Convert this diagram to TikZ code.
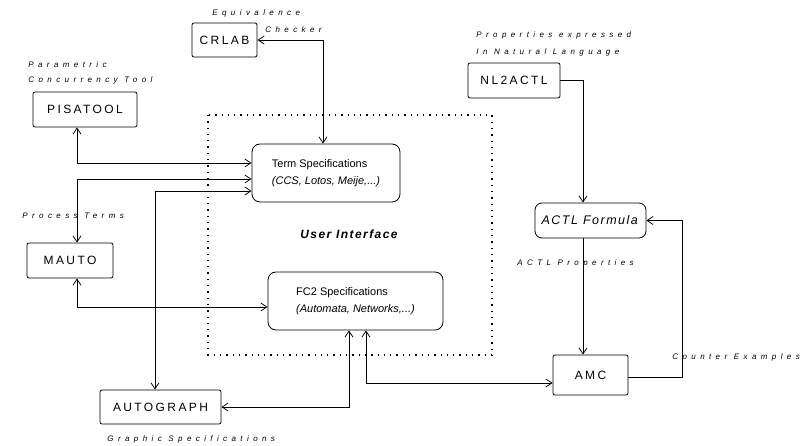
\documentclass[tikz,border=0pt]{standalone}
\usepackage{fontspec}
\setmainfont{Liberation Sans}
\newfontfamily\lblfont[LetterSpace=55]{Liberation Sans}
\newfontfamily\boxfont[LetterSpace=20]{Liberation Sans}
\newfontfamily\uifont[LetterSpace=12]{Liberation Sans}
\usetikzlibrary{arrows.meta}
\begin{document}
\begin{tikzpicture}[x=1pt,y=-1pt,
  >={Straight Barb[length=6pt,width=8pt]},
  every path/.style={line width=0.8pt},
  tool/.style={draw,rounded corners=2pt,inner sep=0pt,font=\boxfont\fontsize{12}{14}\selectfont},
  spec/.style={draw,rounded corners=8pt,inner sep=0pt,align=left,font=\fontsize{11}{17}\selectfont},
  lbl/.style={inner sep=0pt,anchor=west,font=\lblfont\itshape\fontsize{8}{9}\selectfont}]
\useasboundingbox (0,0) rectangle (806,446);
% user interface frame
\draw[line width=1.3pt,dash pattern=on 1.3pt off 5pt] (208,115) rectangle (492,355);
\node[font=\uifont\itshape\bfseries\fontsize{12}{14}\selectfont,inner sep=0pt] (ui) at (349,234) {User Interface};
% nodes
\node[tool,minimum width=65pt,minimum height=34pt] (crlab) at (224.5,40) {CRLAB};
\node[tool,minimum width=104pt,minimum height=35pt] (pisa) at (85,109.5) {PISATOOL};
\node[tool,minimum width=92pt,minimum height=35pt] (nl2) at (514,80.5) {NL2ACTL};
\node[tool,minimum width=86pt,minimum height=35pt] (mauto) at (70,260.5) {MAUTO};
\node[tool,minimum width=121pt,minimum height=34pt] (auto) at (160.5,407) {AUTOGRAPH};
\node[tool,minimum width=75pt,minimum height=40pt] (amc) at (590.5,375) {AMC};
\node[spec,minimum width=148pt,minimum height=58pt] (term) at (326,173)
  {Term Specifications\\\textit{(CCS, Lotos, Meije,...)}};
\node[spec,minimum width=175pt,minimum height=58pt] (fc2) at (355.5,301)
  {FC2 Specifications\\\textit{(Automata, Networks,...)}};
\node[spec,font=\uifont\fontsize{12.5}{14}\selectfont,rounded corners=7pt,minimum width=111pt,minimum height=35pt] (actl) at (590.5,220.5)
  {\textit{ACTL Formula}};
% labels
\node[lbl] (l1) at (212,13) {Equivalence};
\node[lbl] (l2) at (265,30) {Checker};
\node[lbl] (l3) at (28,65) {Parametric};
\node[lbl] (l4) at (28,80) {Concurrency Tool};
\node[lbl] (l5) at (476,35) {Properties expressed};
\node[lbl] (l6) at (476,52) {In Natural Language};
\node[lbl] (l7) at (22,216) {Process Terms};
\node[lbl] (l8) at (517,263) {ACTL Properties};
\node[lbl] (l9) at (672,357) {Counter Examples};
\node[lbl] (l10) at (107,439) {Graphic Specifications};
% connectors
\draw[<->] (crlab.east) -| ([xshift=-3pt]term.north);
\draw[<->] ([xshift=-8pt]pisa.south) |- ([yshift=10pt]term.west);
\draw[<->] ([xshift=7pt]mauto.north) |- ([yshift=-6pt]term.west);
\draw[<->] ([xshift=-5.5pt]auto.north) |- ([yshift=-18pt]term.west);
\draw[<->] ([xshift=7pt]mauto.south) |- ([yshift=-6pt]fc2.west);
\draw[<->] ([xshift=-6.5pt]fc2.south) |- (auto.east);
\draw[<->] ([xshift=10.5pt]fc2.south) |- ([yshift=-8pt]amc.west);
\draw[->] (nl2.east) -| ([xshift=-7.5pt]actl.north);
\draw[->] ([xshift=-7.5pt]actl.south) -- ([xshift=-7.5pt]amc.north);
\draw[->] ([yshift=-2pt]amc.east) -- ++(54,0) |- (actl.east);
\end{tikzpicture}
\end{document}
